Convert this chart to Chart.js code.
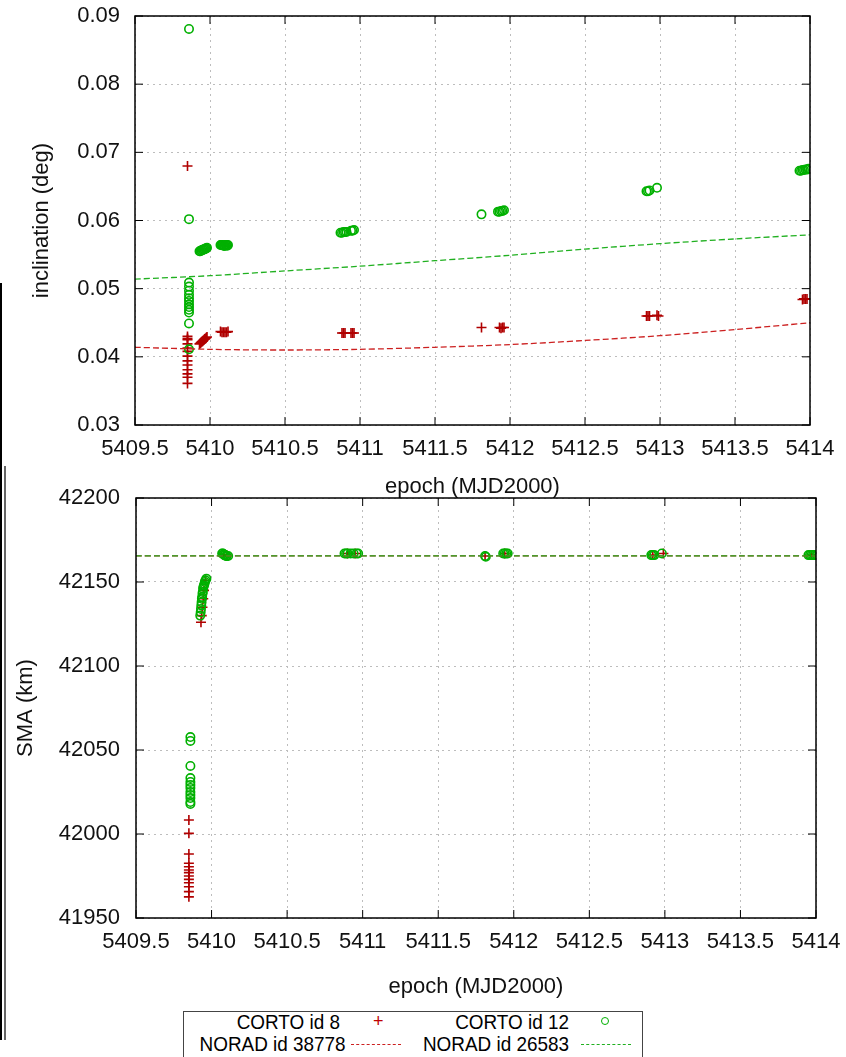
<!DOCTYPE html>
<html>
<head>
<meta charset="utf-8">
<script src="https://cdn.jsdelivr.net/npm/chart.js@4.4.1/dist/chart.umd.min.js"></script>
<style>
  body { margin: 0; background: #fff; width: 846px; height: 1057px; overflow: hidden; position: relative;
         font-family: 'Liberation Sans', Arial, sans-serif; }
  canvas { position: absolute; left: 0; }
  #incChart { top: 0; }
  #smaChart { top: 480px; }
  .edge { position: absolute; }
  #legend { position: absolute; left: 183px; top: 1011px; width: 458px; height: 60px; border: 1px solid #444; }
  .lab { position: absolute; font-size: 21px; line-height: 22px; text-align: right; color: #000;
         white-space: nowrap; transform: scaleX(0.9); transform-origin: right center; }
  .cross { position: absolute; color: #c00000; font-size: 18px; line-height: 18px; }
  .ring { position: absolute; width: 6px; height: 6px; border: 1.5px solid #00b000; border-radius: 50%; }
  .dash { position: absolute; width: 50px; height: 0; }
</style>
</head>
<body>
<div class="edge" style="left:0;top:283px;width:2px;height:757px;background:#000"></div>
<div class="edge" style="left:4px;top:466px;width:1.5px;height:574px;background:#666"></div>

<canvas id="incChart" width="846" height="500"></canvas>
<canvas id="smaChart" width="846" height="520"></canvas>

<div id="legend">
  <div class="lab" style="left:0;width:156px;top:-1px">CORTO id 8</div>
  <div class="cross" style="left:189px;top:0px">+</div>
  <div class="lab" style="left:0;width:156px;top:21px">NORAD id 38778</div>
  <div class="dash" style="left:167px;top:32px;border-top:1.5px dashed #cc2020"></div>
  <div class="lab" style="left:200px;width:185px;top:-1px">CORTO id 12</div>
  <div class="ring" style="left:417px;top:5px"></div>
  <div class="lab" style="left:200px;width:185px;top:21px">NORAD id 26583</div>
  <div class="dash" style="left:397px;top:32px;border-top:1.5px dashed #20b020"></div>
</div>

<script>
// tick labels
const epochTicks = [5409.5, 5410, 5410.5, 5411, 5411.5, 5412, 5412.5, 5413, 5413.5, 5414];
const incTicks = [0.03, 0.04, 0.05, 0.06, 0.07, 0.08, 0.09];
const smaTicks = [41950, 42000, 42050, 42100, 42150, 42200];

// inclination, CORTO id 8
const incCorto8Epoch = [
  5409.85, 5409.85, 5409.85, 5409.85, 5409.85, 5409.85, 5409.85, 5409.85, 5409.85, 5409.85, 5409.85, 5409.85, 5409.85, 5409.85,
  5409.93, 5409.935, 5409.94, 5409.945, 5409.95, 5409.955, 5409.96, 5409.965, 5409.97, 5409.975, 5409.98,
  5410.07, 5410.08, 5410.09, 5410.10, 5410.11, 5410.12,
  5410.88, 5410.89, 5410.90, 5410.94, 5410.95, 5410.96,
  5411.81, 5411.93, 5411.94, 5411.95, 5411.96,
  5412.91, 5412.92, 5412.93, 5412.98, 5412.99,
  5413.95, 5413.96, 5413.97, 5413.98
];
const incCorto8Deg = [
  0.0680, 0.0430, 0.0427, 0.0425, 0.0419, 0.0413, 0.0408, 0.0401, 0.0394, 0.0388, 0.0381, 0.0375, 0.0370, 0.0361,
  0.0419, 0.0420, 0.0421, 0.0422, 0.0423, 0.0424, 0.0425, 0.0426, 0.0427, 0.0428, 0.0429,
  0.0437, 0.0436, 0.0436, 0.0436, 0.0436, 0.0437,
  0.0435, 0.0435, 0.0435, 0.0435, 0.0435, 0.0435,
  0.0443, 0.0443, 0.0442, 0.0443, 0.0443,
  0.0460, 0.0460, 0.0460, 0.0461, 0.0460,
  0.0484, 0.0485, 0.0485, 0.0485
];

// inclination, CORTO id 12
const incCorto12Epoch = [
  5409.86, 5409.86, 5409.86, 5409.86, 5409.86, 5409.86, 5409.86, 5409.86, 5409.86, 5409.86, 5409.86, 5409.86, 5409.86, 5409.86,
  5409.93, 5409.935, 5409.94, 5409.945, 5409.95, 5409.955, 5409.96, 5409.965, 5409.97, 5409.975, 5409.98,
  5410.07, 5410.075, 5410.08, 5410.085, 5410.09, 5410.095, 5410.10, 5410.105, 5410.11, 5410.115, 5410.12,
  5410.87, 5410.88, 5410.89, 5410.90, 5410.91, 5410.94, 5410.95, 5410.96,
  5411.81, 5411.92, 5411.93, 5411.94, 5411.95, 5411.96,
  5412.91, 5412.92, 5412.93, 5412.98,
  5413.93, 5413.94, 5413.95, 5413.96, 5413.97, 5413.98, 5413.99
];
const incCorto12Deg = [
  0.0881, 0.0602, 0.0509, 0.0503, 0.0497, 0.0491, 0.0486, 0.0482, 0.0477, 0.0473, 0.0469, 0.0465, 0.0449, 0.0411,
  0.0555, 0.0555, 0.0556, 0.0556, 0.0557, 0.0557, 0.0558, 0.0558, 0.0559, 0.0559, 0.0560,
  0.0564, 0.0564, 0.0564, 0.0564, 0.0563, 0.0563, 0.0563, 0.0564, 0.0564, 0.0563, 0.0564,
  0.0582, 0.0582, 0.0583, 0.0583, 0.0583, 0.0585, 0.0585, 0.0586,
  0.0609, 0.0613, 0.0613, 0.0614, 0.0614, 0.0615,
  0.0643, 0.0643, 0.0644, 0.0648,
  0.0673, 0.0673, 0.0674, 0.0674, 0.0675, 0.0675, 0.0676
];

// NORAD propagated orbits
const noradEpoch = [5409.5, 5410, 5410.5, 5411, 5411.5, 5412, 5412.5, 5413, 5413.5, 5414];
const incNorad38778 = [0.0414, 0.0411, 0.0410, 0.0411, 0.0414, 0.0418, 0.0424, 0.0431, 0.0440, 0.0450];
const incNorad26583 = [0.0514, 0.0519, 0.0526, 0.0533, 0.0541, 0.0549, 0.0558, 0.0566, 0.0573, 0.0579];

// SMA, CORTO id 8
const smaCorto8Epoch = [
  5409.85, 5409.85, 5409.85, 5409.85, 5409.85, 5409.85, 5409.85, 5409.85, 5409.85, 5409.85, 5409.85, 5409.85, 5409.85,
  5409.93, 5409.935, 5409.94, 5409.945, 5409.95, 5409.96,
  5410.08, 5410.10,
  5410.90, 5410.95,
  5411.81, 5411.94,
  5412.92, 5412.99,
  5413.97
];
const smaCorto8Km = [
  42008.3, 42000.4, 41988.1, 41982.6, 41980.5, 41978.6, 41977.0, 41975.0, 41973.0, 41971.0, 41968.6, 41965.7, 41962.6,
  42126, 42130, 42135, 42140, 42145, 42151,
  42166, 42166,
  42167, 42167,
  42165.5, 42167,
  42166, 42167,
  42166
];

// SMA, CORTO id 12
const smaCorto12Epoch = [
  5409.86, 5409.86, 5409.86, 5409.86, 5409.86, 5409.86, 5409.86, 5409.86, 5409.86, 5409.86, 5409.86, 5409.86,
  5409.925, 5409.928, 5409.930, 5409.932, 5409.934, 5409.936, 5409.938, 5409.940,
  5409.942, 5409.944, 5409.946, 5409.950, 5409.953, 5409.956, 5409.960, 5409.966,
  5410.07, 5410.075, 5410.08, 5410.085, 5410.09, 5410.095, 5410.10, 5410.11,
  5410.88, 5410.89, 5410.90, 5410.92, 5410.94, 5410.96, 5410.97,
  5411.81, 5411.815, 5411.93, 5411.94, 5411.95, 5411.96,
  5412.91, 5412.92, 5412.93, 5412.98,
  5413.95, 5413.96, 5413.97, 5413.98, 5413.99
];
const smaCorto12Km = [
  42057.7, 42055.4, 42040.5, 42033.3, 42031.0, 42029.2, 42027.4, 42025.0, 42023.2, 42021.4, 42019.0, 42017.9,
  42130, 42132, 42134, 42136, 42138, 42140, 42141, 42143,
  42144, 42146, 42147, 42148, 42149, 42150, 42151, 42152,
  42167, 42167, 42166.5, 42166, 42166, 42165.5, 42165.5, 42165.5,
  42167, 42167, 42167, 42167, 42167, 42167, 42167,
  42165.5, 42165, 42167, 42167, 42167, 42167,
  42166, 42166, 42166, 42167,
  42166, 42166, 42166, 42166, 42166
];

const smaNorad38778 = [42165.6, 42165.6, 42165.6, 42165.6, 42165.6, 42165.6, 42165.6, 42165.6, 42165.6, 42165.6];
const smaNorad26583 = [42165.5, 42165.5, 42165.5, 42165.5, 42165.5, 42165.5, 42165.5, 42165.5, 42165.5, 42165.5];

const RED = '#b00000';
const GREEN = '#00b000';

Chart.defaults.font.family = "'Liberation Sans', Arial, sans-serif";
Chart.defaults.font.size = 22;
Chart.defaults.color = '#111';

const pairs = (xs, ys) => xs.map((x, i) => ({ x: x, y: ys[i] }));

// gnuplot style frame with inward tick marks
const frameBox = {
  id: 'frameBox',
  afterDatasetsDraw(chart) {
    const { ctx, chartArea: a, scales } = chart;
    const sx = scales.x, sy = scales.y;
    ctx.save();
    ctx.strokeStyle = '#000';
    ctx.lineWidth = 1;
    ctx.beginPath();
    sx.ticks.forEach(t => {
      const px = sx.getPixelForValue(t.value);
      ctx.moveTo(px, a.bottom); ctx.lineTo(px, a.bottom - 8);
      ctx.moveTo(px, a.top); ctx.lineTo(px, a.top + 8);
    });
    sy.ticks.forEach(t => {
      const py = sy.getPixelForValue(t.value);
      ctx.moveTo(a.left, py); ctx.lineTo(a.left + 8, py);
      ctx.moveTo(a.right, py); ctx.lineTo(a.right - 8, py);
    });
    ctx.stroke();
    ctx.lineWidth = 1.5;
    ctx.strokeRect(a.left, a.top, a.right - a.left, a.bottom - a.top);
    ctx.restore();
  }
};

function makePlot(canvasId, cfg)
{
  const gridStyle = { color: '#bdbdbd', lineWidth: 1, drawTicks: false };
  const borderStyle = { display: false, dash: [2, 4] };
  return new Chart(document.getElementById(canvasId), {
    type: 'scatter',
    data: {
      datasets: [
        {
          label: 'CORTO id 8',
          data: pairs(cfg.c8x, cfg.c8y),
          pointStyle: 'cross', pointRadius: 5, pointBorderWidth: 1.6,
          borderColor: RED, backgroundColor: RED, order: 4
        },
        {
          label: 'CORTO id 12',
          data: pairs(cfg.c12x, cfg.c12y),
          pointStyle: 'circle', pointRadius: 4.2, pointBorderWidth: 1.6,
          borderColor: GREEN, backgroundColor: 'rgba(0,0,0,0)', order: 3
        },
        {
          label: 'NORAD id 38778',
          data: pairs(noradEpoch, cfg.n1),
          showLine: true, pointRadius: 0, borderWidth: 1.3, borderDash: [6, 3],
          borderColor: '#cc2020', tension: 0.3, order: 2
        },
        {
          label: 'NORAD id 26583',
          data: pairs(noradEpoch, cfg.n2),
          showLine: true, pointRadius: 0, borderWidth: 1.3, borderDash: [6, 3],
          borderColor: '#20b020', tension: 0.3, order: 1
        }
      ]
    },
    options: {
      responsive: false,
      animation: false,
      devicePixelRatio: 1,
      layout: { padding: cfg.padding },
      plugins: { legend: { display: false }, tooltip: { enabled: false } },
      scales: {
        x: {
          type: 'linear',
          min: epochTicks[0], max: epochTicks[epochTicks.length - 1],
          afterBuildTicks: (s) => { s.ticks = epochTicks.map(v => ({ value: v })); },
          afterFit: (s) => { s.height = cfg.xHeight; s.paddingLeft = 0; s.paddingRight = 0; },
          grid: gridStyle,
          border: borderStyle,
          ticks: { padding: cfg.xTickPad, maxRotation: 0, autoSkip: false,
                   callback: (v) => String(Math.round(v * 10) / 10) },
          title: { display: true, text: 'epoch (MJD2000)', padding: { top: cfg.xTitlePad, bottom: 0 } }
        },
        y: {
          type: 'linear',
          min: cfg.yTicks[0], max: cfg.yTicks[cfg.yTicks.length - 1],
          afterBuildTicks: (s) => { s.ticks = cfg.yTicks.map(v => ({ value: v })); },
          afterFit: (s) => { s.width = cfg.yWidth; s.paddingTop = 0; s.paddingBottom = 0; },
          grid: gridStyle,
          border: borderStyle,
          ticks: { padding: cfg.yTickPad, callback: cfg.yFormat },
          title: { display: true, text: cfg.yTitle, padding: { top: cfg.yTitlePad, bottom: 0 } }
        }
      }
    },
    plugins: [frameBox]
  });
}

makePlot('incChart', {
  c8x: incCorto8Epoch, c8y: incCorto8Deg,
  c12x: incCorto12Epoch, c12y: incCorto12Deg,
  n1: incNorad38778, n2: incNorad26583,
  yTicks: incTicks, yTitle: 'inclination (deg)',
  yFormat: (v) => v.toFixed(2),
  padding: { top: 16, right: 36, left: 0, bottom: 0 },
  xHeight: 75, yWidth: 135,
  xTickPad: 11, yTickPad: 15, xTitlePad: 4, yTitlePad: 29
});

makePlot('smaChart', {
  c8x: smaCorto8Epoch, c8y: smaCorto8Km,
  c12x: smaCorto12Epoch, c12y: smaCorto12Km,
  n1: smaNorad38778, n2: smaNorad26583,
  yTicks: smaTicks, yTitle: 'SMA (km)',
  yFormat: (v) => String(v),
  padding: { top: 18, right: 30, left: 0, bottom: 0 },
  xHeight: 82, yWidth: 136,
  xTickPad: 11, yTickPad: 16, xTitlePad: 10, yTitlePad: 13
});
</script>
</body>
</html>
